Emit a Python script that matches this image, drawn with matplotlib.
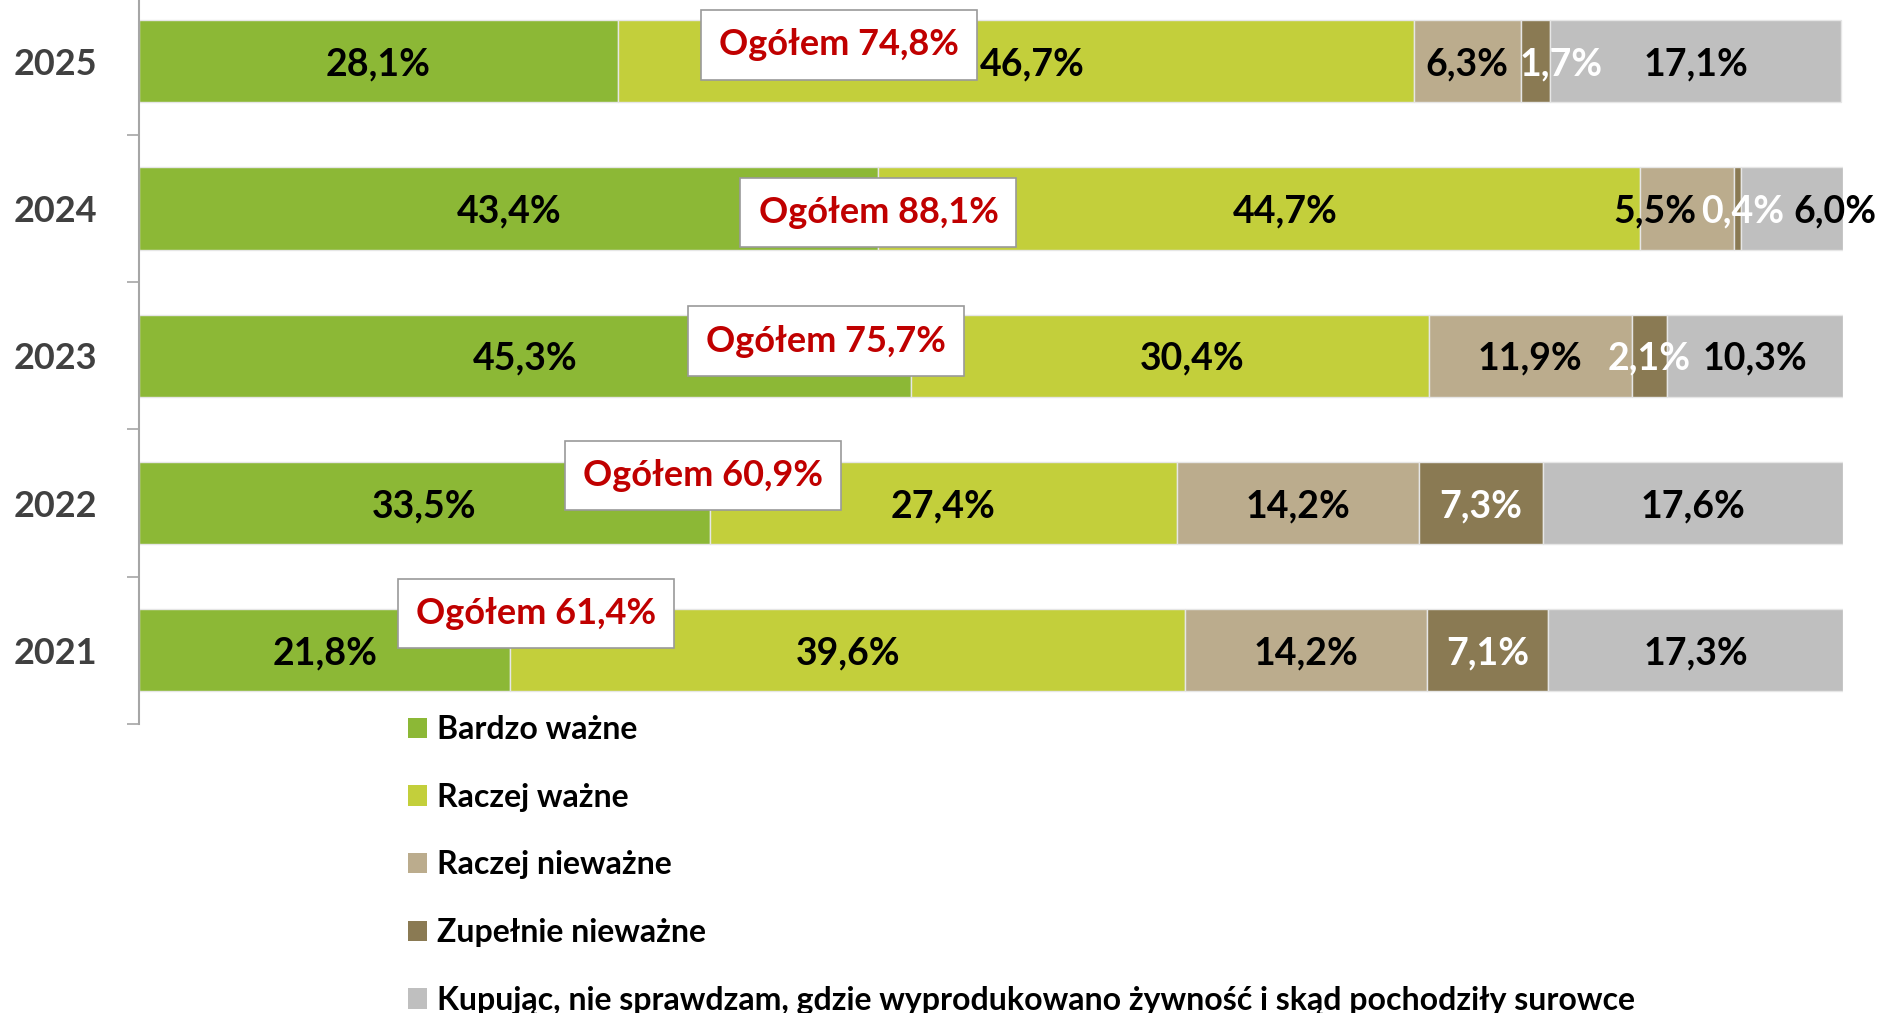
import matplotlib
matplotlib.use("Agg")
import matplotlib.pyplot as plt
from matplotlib.patches import Patch
import numpy as np

plt.rcParams['font.family'] = ['Lato', 'DejaVu Sans']
plt.rcParams['font.weight'] = 'bold'

# === Dane ===
years = ['2021', '2022', '2023', '2024', '2025']
series_names = [
    'Bardzo ważne',
    'Raczej ważne',
    'Raczej nieważne',
    'Zupełnie nieważne',
    'Kupując, nie sprawdzam, gdzie wyprodukowano żywność i skąd pochodziły surowce',
]
bardzo_wazne = [21.8, 33.5, 45.3, 43.4, 28.1]
raczej_wazne = [39.6, 27.4, 30.4, 44.7, 46.7]
raczej_niewazne = [14.2, 14.2, 11.9, 5.5, 6.3]
zupelnie_niewazne = [7.1, 7.3, 2.1, 0.4, 1.7]
nie_sprawdzam = [17.3, 17.6, 10.3, 6.0, 17.1]

series = [bardzo_wazne, raczej_wazne, raczej_niewazne, zupelnie_niewazne, nie_sprawdzam]

# Styl
colors = ['#8CB836', '#C3CF3B', '#BBAC8D', '#8A7A53', '#BFBFBF']
text_colors = ['black', 'black', 'black', 'white', 'black']

# przesunięcia niektórych etykiet (w %), klucz: (indeks roku, indeks serii)
label_shift = {(4, 1): 1.0, (4, 3): 1.5, (3, 1): 1.5, (3, 2): -1.9,
               (3, 3): 0.3, (3, 4): 2.5, (2, 1): 1.3}
# pozycje ramek "Ogółem" (x w %, przesunięcie y w jednostkach kategorii)
box_x = [23.3, 33.1, 40.3, 43.4, 41.1]
box_dy = [0.25, 0.19, 0.10, -0.03, 0.11]

fig = plt.figure(figsize=(18.8, 10.13), dpi=100)
ax = fig.add_axes([0.0739, 0.2853, 0.9064, 0.727])

y = np.arange(len(years))
left = np.zeros(len(years))
for s_i, (vals, color) in enumerate(zip(series, colors)):
    vals = np.array(vals)
    ax.barh(y, vals, left=left, height=0.558, color=color,
            edgecolor='#E6E6E6', linewidth=1)
    for y_i, (v, l) in enumerate(zip(vals, left)):
        xc = l + v / 2 + label_shift.get((y_i, s_i), 0)
        ax.text(xc, y_i - 0.02, f"{v:.1f}%".replace('.', ','), ha='center', va='center',
                fontsize=27, fontweight='bold', color=text_colors[s_i])
    left = left + vals

# Ogółem = bardzo ważne + raczej ważne
for y_i in range(len(years)):
    total = bardzo_wazne[y_i] + raczej_wazne[y_i]
    ax.text(box_x[y_i], y_i + box_dy[y_i], f"Ogółem {total:.1f}%".replace('.', ','),
            ha='center', va='center', fontsize=26, fontweight='bold', color='#C00000',
            bbox=dict(boxstyle='square,pad=0.5', facecolor='white',
                      edgecolor='#9A9A9A', linewidth=1.2))

ax.set_xlim(0, 100)
ax.set_ylim(-0.5, len(years) - 0.5)
ax.set_yticks(y)
ax.set_yticklabels(years, fontsize=26, fontweight='bold', color='#404040')
ax.set_yticks(np.arange(-0.5, len(years), 1), minor=True)
ax.tick_params(axis='y', which='major', length=0, pad=30)
ax.tick_params(axis='y', which='minor', length=9, width=1.2, color='#A6A6A6', direction='out')
ax.set_xticks([])
for side in ['top', 'right', 'bottom']:
    ax.spines[side].set_visible(False)
ax.spines['left'].set_color('#A6A6A6')
ax.spines['left'].set_linewidth(1.5)

handles = [Patch(facecolor=c, edgecolor='none') for c in colors]
fig.legend(handles, series_names, loc='upper left', bbox_to_anchor=(0.217, 0.294),
           frameon=False, fontsize=23, labelspacing=1.21, handlelength=0.6,
           handleheight=0.6, handletextpad=0.3, borderpad=0, borderaxespad=0)

plt.savefig('out.png', dpi=100)
